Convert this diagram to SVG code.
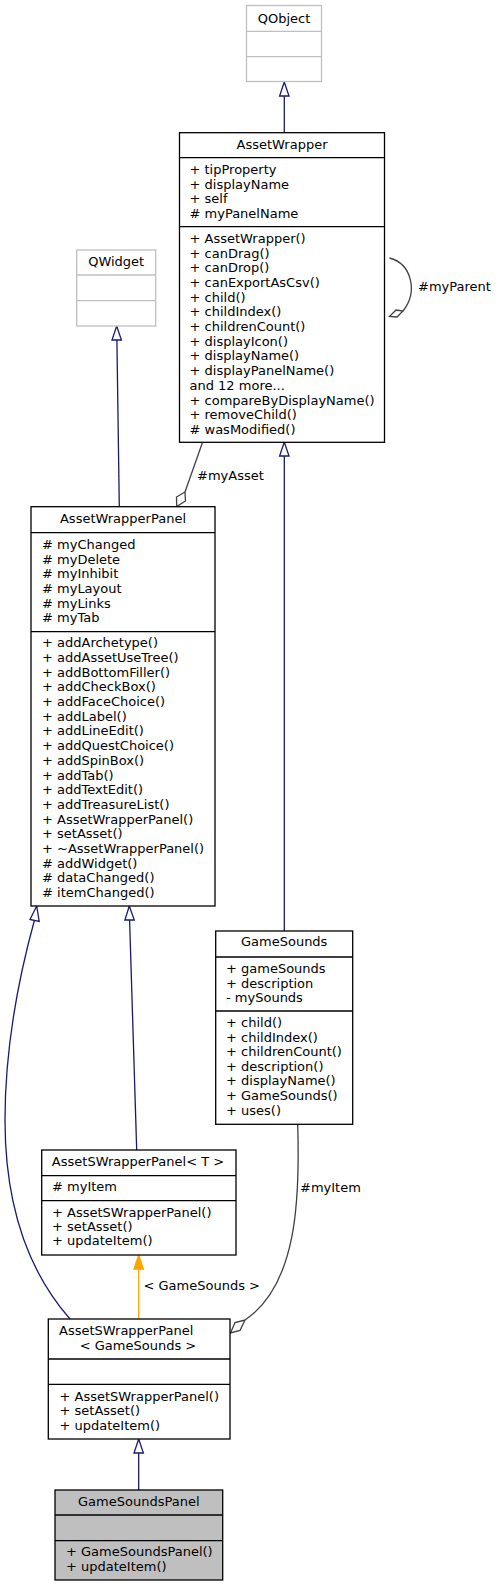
<svg xmlns="http://www.w3.org/2000/svg" width="496" height="1587" viewBox="0 0 496 1587">
<style>
text{font-family:"DejaVu Sans","Liberation Sans",sans-serif;font-size:13px;fill:#000}
.box{fill:#fff;stroke:#000;stroke-width:1.3}
.ext{fill:#fff;stroke:#bfbfbf;stroke-width:1.3}
.cur{fill:#bfbfbf;stroke:#000;stroke-width:1.3}
.div{stroke:#000;stroke-width:1.3}
.gdiv{stroke:#bfbfbf;stroke-width:1.3}
.inh{fill:none;stroke:#191970;stroke-width:1.3}
.inhh{fill:#fff;stroke:#191970;stroke-width:1.3}
.asc{fill:none;stroke:#404040;stroke-width:1.3}
.asch{fill:#fff;stroke:#404040;stroke-width:1.3}
.tpl{fill:none;stroke:#ffa500;stroke-width:1.3}
.tplh{fill:#ffa500;stroke:#ffa500;stroke-width:1.3}
.c{text-anchor:middle}
</style>
<g id="connectors">
<!-- QObject <- AssetWrapper -->
<path class="inh" d="M284.3 132.7 L284.3 96"/>
<polygon class="inhh" points="284.3,82 279.6,96 289,96"/>
<!-- AssetWrapper self -->
<path class="asc" d="M389.5 258 C412 264 418 292 403 311"/>
<polygon class="asch" points="389.5,316.5 396,310 403,311 397,317"/>
<text x="418" y="290.5">#myParent</text>
<!-- QWidget <- AssetWrapperPanel -->
<path class="inh" d="M119.3 506.7 L116.9 340"/>
<polygon class="inhh" points="116.7,326 112,340 121.4,340"/>
<!-- AssetWrapper -> AssetWrapperPanel (#myAsset) -->
<path class="asc" d="M202.3 443 L185 492"/>
<polygon class="asch" points="176.7,506.5 176.5,497 185,492 185.5,501"/>
<text x="197" y="479.5">#myAsset</text>
<!-- AssetWrapper <- GameSounds -->
<path class="inh" d="M284.3 931 L284.3 456"/>
<polygon class="inhh" points="284.3,442 279.6,456 289,456"/>
<!-- AssetWrapperPanel <- AssetSWrapperPanel<GameSounds> -->
<path class="inh" d="M70 1319 C20 1262 5 1190 5 1120 C5 1050 18 980 34.5 920"/>
<polygon class="inhh" points="36.7,906 30,919.5 39.2,921.5"/>
<!-- AssetWrapperPanel <- AssetSWrapperPanel<T> -->
<path class="inh" d="M136.7 1150 L129.6 920"/>
<polygon class="inhh" points="129.3,906 124.9,920 134.3,920"/>
<!-- AssetSWrapperPanel<T> <- template instance -->
<path class="tpl" d="M138.7 1319 L138.7 1269"/>
<polygon class="tplh" points="138.7,1255 134,1269 143.4,1269"/>
<text x="143.5" y="1290">&lt; GameSounds &gt;</text>
<!-- GameSounds -> AssetSWrapperPanel<GameSounds> (#myItem) -->
<path class="asc" d="M297.7 1124.5 C300 1200 297 1285 245 1320"/>
<polygon class="asch" points="230.5,1333 235,1322.5 245,1320 240,1330.5"/>
<text x="300" y="1191.5">#myItem</text>
<!-- AssetSWrapperPanel<GameSounds> <- GameSoundsPanel -->
<path class="inh" d="M138.7 1490 L138.7 1453"/>
<polygon class="inhh" points="138.7,1439 134,1453 143.4,1453"/>
</g>
<g id="QObject">
<rect class="ext" x="246.5" y="5.5" width="75" height="76"/>
<line class="gdiv" x1="246.5" y1="31.3" x2="321.5" y2="31.3"/>
<line class="gdiv" x1="246.5" y1="56.7" x2="321.5" y2="56.7"/>
<text class="c" x="284" y="22.5">QObject</text>
</g>
<g id="AssetWrapper">
<rect class="box" x="179.5" y="132.7" width="205" height="309.6"/>
<line class="div" x1="179.5" y1="157.7" x2="384.5" y2="157.7"/>
<line class="div" x1="179.5" y1="226.7" x2="384.5" y2="226.7"/>
<text class="c" x="282" y="149">AssetWrapper</text>
<text x="189.5" y="173.8">+ tipProperty</text>
<text x="189.5" y="188.5">+ displayName</text>
<text x="189.5" y="203.2">+ self</text>
<text x="189.5" y="217.9"># myPanelName</text>
<text x="189.5" y="242.8">+ AssetWrapper()</text>
<text x="189.5" y="257.5">+ canDrag()</text>
<text x="189.5" y="272.2">+ canDrop()</text>
<text x="189.5" y="286.9">+ canExportAsCsv()</text>
<text x="189.5" y="301.6">+ child()</text>
<text x="189.5" y="316.3">+ childIndex()</text>
<text x="189.5" y="331">+ childrenCount()</text>
<text x="189.5" y="345.7">+ displayIcon()</text>
<text x="189.5" y="360.4">+ displayName()</text>
<text x="189.5" y="375.1">+ displayPanelName()</text>
<text x="189.5" y="389.8">and 12 more...</text>
<text x="189.5" y="404.5">+ compareByDisplayName()</text>
<text x="189.5" y="419.2">+ removeChild()</text>
<text x="189.5" y="433.9"># wasModified()</text>
</g>
<g id="QWidget">
<rect class="ext" x="76.7" y="250" width="79" height="76"/>
<line class="gdiv" x1="76.7" y1="275" x2="155.7" y2="275"/>
<line class="gdiv" x1="76.7" y1="300.7" x2="155.7" y2="300.7"/>
<text class="c" x="116.2" y="266.2">QWidget</text>
</g>
<g id="AssetWrapperPanel">
<rect class="box" x="31" y="506.7" width="184" height="399.3"/>
<line class="div" x1="31" y1="532.7" x2="215" y2="532.7"/>
<line class="div" x1="31" y1="631.7" x2="215" y2="631.7"/>
<text class="c" x="123" y="523">AssetWrapperPanel</text>
<text x="42" y="548.8"># myChanged</text>
<text x="42" y="563.5"># myDelete</text>
<text x="42" y="578.2"># myInhibit</text>
<text x="42" y="592.9"># myLayout</text>
<text x="42" y="607.6"># myLinks</text>
<text x="42" y="622.3"># myTab</text>
<text x="42" y="647.2">+ addArchetype()</text>
<text x="42" y="661.9">+ addAssetUseTree()</text>
<text x="42" y="676.6">+ addBottomFiller()</text>
<text x="42" y="691.3">+ addCheckBox()</text>
<text x="42" y="706">+ addFaceChoice()</text>
<text x="42" y="720.7">+ addLabel()</text>
<text x="42" y="735.4">+ addLineEdit()</text>
<text x="42" y="750.1">+ addQuestChoice()</text>
<text x="42" y="764.8">+ addSpinBox()</text>
<text x="42" y="779.5">+ addTab()</text>
<text x="42" y="794.2">+ addTextEdit()</text>
<text x="42" y="808.9">+ addTreasureList()</text>
<text x="42" y="823.6">+ AssetWrapperPanel()</text>
<text x="42" y="838.3">+ setAsset()</text>
<text x="42" y="853">+ ~AssetWrapperPanel()</text>
<text x="42" y="867.7"># addWidget()</text>
<text x="42" y="882.4"># dataChanged()</text>
<text x="42" y="897.1"># itemChanged()</text>
</g>
<g id="GameSounds">
<rect class="box" x="215.7" y="931" width="137" height="193.3"/>
<line class="div" x1="215.7" y1="957" x2="352.7" y2="957"/>
<line class="div" x1="215.7" y1="1011" x2="352.7" y2="1011"/>
<text class="c" x="284.2" y="946.2">GameSounds</text>
<text x="226" y="972.8">+ gameSounds</text>
<text x="226" y="987.5">+ description</text>
<text x="226" y="1002.2">- mySounds</text>
<text x="226" y="1027.2">+ child()</text>
<text x="226" y="1041.8">+ childIndex()</text>
<text x="226" y="1056.3">+ childrenCount()</text>
<text x="226" y="1070.9">+ description()</text>
<text x="226" y="1085.4">+ displayName()</text>
<text x="226" y="1100">+ GameSounds()</text>
<text x="226" y="1114.5">+ uses()</text>
</g>
<g id="AssetSWrapperPanelT">
<rect class="box" x="41.7" y="1150" width="194.3" height="105"/>
<line class="div" x1="41.7" y1="1175.7" x2="236" y2="1175.7"/>
<line class="div" x1="41.7" y1="1200.7" x2="236" y2="1200.7"/>
<text class="c" x="138" y="1166.2">AssetSWrapperPanel&lt; T &gt;</text>
<text x="52" y="1191.2"># myItem</text>
<text x="52" y="1216.8">+ AssetSWrapperPanel()</text>
<text x="52" y="1231.2">+ setAsset()</text>
<text x="52" y="1245.2">+ updateItem()</text>
</g>
<g id="AssetSWrapperPanelGameSounds">
<rect class="box" x="48.3" y="1319" width="181.7" height="120"/>
<line class="div" x1="48.3" y1="1359" x2="230" y2="1359"/>
<line class="div" x1="48.3" y1="1384.3" x2="230" y2="1384.3"/>
<text x="59" y="1335.2">AssetSWrapperPanel</text>
<text class="c" x="138" y="1349.8">&lt; GameSounds &gt;</text>
<text x="59.5" y="1401.2">+ AssetSWrapperPanel()</text>
<text x="59.5" y="1414.8">+ setAsset()</text>
<text x="59.5" y="1429.5">+ updateItem()</text>
</g>
<g id="GameSoundsPanel">
<rect class="cur" x="55" y="1490" width="167.7" height="90"/>
<line class="div" x1="55" y1="1515" x2="222.7" y2="1515"/>
<line class="div" x1="55" y1="1540.7" x2="222.7" y2="1540.7"/>
<text class="c" x="138.8" y="1506.2">GameSoundsPanel</text>
<text x="66" y="1556.2">+ GameSoundsPanel()</text>
<text x="66" y="1571.2">+ updateItem()</text>
</g>
</svg>
